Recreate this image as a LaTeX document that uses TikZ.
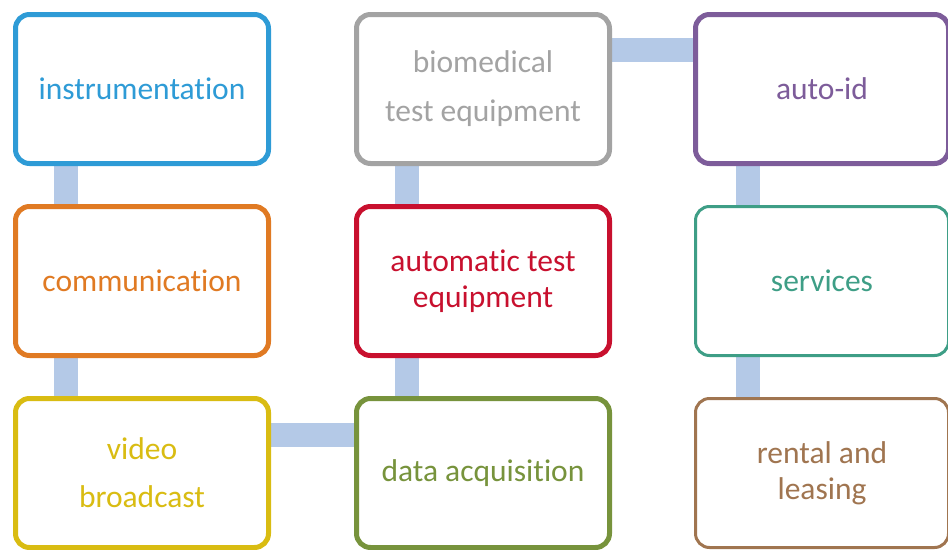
\documentclass[tikz,border=0pt]{standalone}
\usepackage{fontspec}
\setmainfont{Carlito}[Ligatures={NoCommon}]
\usepackage{tikz}
\usetikzlibrary{backgrounds}
\usepackage{xcolor}
\definecolor{cblue}{RGB}{46,155,214}
\definecolor{corange}{RGB}{224,122,35}
\definecolor{cyellow}{RGB}{217,188,18}
\definecolor{cgray}{RGB}{163,163,163}
\definecolor{cred}{RGB}{200,16,46}
\definecolor{cgreen}{RGB}{119,147,60}
\definecolor{cpurple}{RGB}{125,92,154}
\definecolor{cteal}{RGB}{62,158,134}
\definecolor{cbrown}{RGB}{160,117,80}
\definecolor{clink}{RGB}{180,201,231}

\begin{document}
\begin{tikzpicture}[x=1pt, y=-1pt,
  item/.style={draw=#1, text=#1, fill=white, line width=5pt, rounded corners=14pt,
    minimum width=253pt, minimum height=149pt, align=center,
    font=\fontsize{31.5}{36}\selectfont},
  link/.style={draw=clink, line width=24pt}]
\useasboundingbox (0,0) rectangle (948,549);
\clip (0,0) rectangle (948,549);
% Market segments
\node[item=cblue] (instr) at (142,89) {instrumentation};
\node[item=corange] (comm) at (142,281) {communication};
\node[item=cyellow] (video) at (142,473) {video\\[12pt]broadcast};
\node[item=cgray] (bio) at (483,89) {biomedical\\[13pt]test equipment};
\node[item=cred] (ate) at (483,281) {automatic test\\equipment};
\node[item=cgreen] (daq) at (483,473) {data acquisition};
\node[item=cpurple] (autoid) at (822,89) {auto-id};
\node[item=cteal, line width=3pt] (serv) at (822,281) {services};
\node[item=cbrown, line width=3pt] (rent) at (822,473) {rental and\\leasing};
% Links behind the boxes
\begin{scope}[on background layer]
\draw[link] ([xshift=-76pt]instr.south) -- ([xshift=-76pt]comm.north);
\draw[link] ([xshift=-76pt]comm.south) -- ([xshift=-76pt]video.north);
\draw[link] ([yshift=38pt]video.east) -- ([yshift=38pt]daq.west);
\draw[link] ([xshift=-76pt]daq.north) -- ([xshift=-76pt]ate.south);
\draw[link] ([xshift=-76pt]ate.north) -- ([xshift=-76pt]bio.south);
\draw[link] ([yshift=39pt]bio.east) -- ([yshift=39pt]autoid.west);
\draw[link] ([xshift=-74pt]autoid.south) -- ([xshift=-74pt]serv.north);
\draw[link] ([xshift=-74pt]serv.south) -- ([xshift=-74pt]rent.north);
\end{scope}
\end{tikzpicture}
\end{document}
